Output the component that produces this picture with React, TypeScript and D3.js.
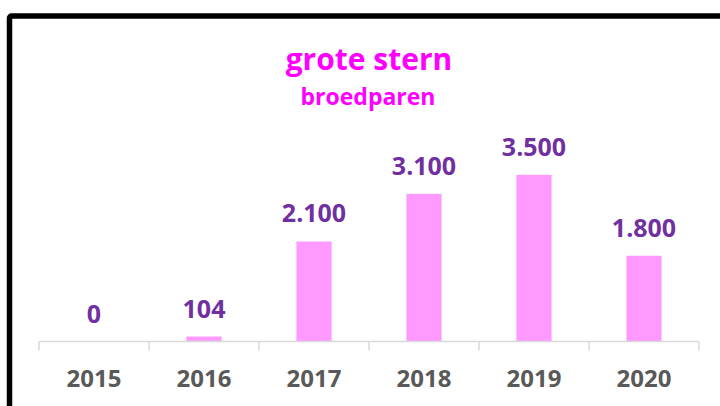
import { useEffect, useRef } from 'react';
import * as d3 from 'd3';

const years = ['2015', '2016', '2017', '2018', '2019', '2020'];
const pairs = [0, 104, 2100, 3100, 3500, 1800];
const title = 'grote stern';
const subtitle = 'broedparen';

export default function App() {
  const svgRef = useRef<SVGSVGElement | null>(null);

  useEffect(() => {
    const width = 720;
    const height = 406;
    const font = '"Open Sans", Calibri, sans-serif';

    const svg = d3.select(svgRef.current)
      .attr('width', width)
      .attr('height', height);
    svg.selectAll('*').remove();

    // kader rond de grafiek (loopt rechts en onder door)
    svg.append('rect')
      .attr('x', 9.5)
      .attr('y', 16)
      .attr('width', 760)
      .attr('height', 440)
      .attr('rx', 2)
      .attr('fill', '#fff')
      .attr('stroke', '#000')
      .attr('stroke-width', 5.5);

    const x = d3.scaleBand<string>()
      .domain(years)
      .range([39, 699])
      .padding(0);

    const y = d3.scaleLinear()
      .domain([0, 4000])
      .range([341.5, 151]);

    const nl = d3.formatLocale({ decimal: ',', thousands: '.', grouping: [3], currency: ['€', ''] });
    const fmt = nl.format(',');

    const barW = x.bandwidth() * 0.32;

    // balken
    svg.append('g')
      .selectAll('rect')
      .data(pairs)
      .join('rect')
      .attr('x', (d, i) => x(years[i])! + x.bandwidth() / 2 - barW / 2)
      .attr('y', d => y(d))
      .attr('width', barW)
      .attr('height', d => y(0) - y(d))
      .attr('fill', '#FF99FF');

    // waardes boven de balken
    svg.append('g')
      .selectAll('text')
      .data(pairs)
      .join('text')
      .attr('x', (d, i) => x(years[i])! + x.bandwidth() / 2)
      .attr('y', d => y(d) - 19)
      .attr('text-anchor', 'middle')
      .attr('font-family', font)
      .attr('font-weight', 700)
      .attr('font-size', 25)
      .attr('fill', '#7030A0')
      .text(d => fmt(d));

    // x-as
    const axis = svg.append('g');
    axis.append('line')
      .attr('x1', x.range()[0])
      .attr('x2', x.range()[1])
      .attr('y1', y(0))
      .attr('y2', y(0))
      .attr('stroke', '#D9D9D9')
      .attr('stroke-width', 1.5);

    const edges = years.map(d => x(d)!).concat([x.range()[1]]);
    axis.selectAll('line.tick')
      .data(edges)
      .join('line')
      .attr('class', 'tick')
      .attr('x1', d => d)
      .attr('x2', d => d)
      .attr('y1', y(0))
      .attr('y2', y(0) + 9)
      .attr('stroke', '#D9D9D9')
      .attr('stroke-width', 1.5);

    axis.selectAll('text')
      .data(years)
      .join('text')
      .attr('x', d => x(d)! + x.bandwidth() / 2)
      .attr('y', 387)
      .attr('text-anchor', 'middle')
      .attr('font-family', font)
      .attr('font-weight', 700)
      .attr('font-size', 24)
      .attr('fill', '#595959')
      .text(d => d);

    // titel
    svg.append('text')
      .attr('x', 369)
      .attr('y', 70)
      .attr('text-anchor', 'middle')
      .attr('font-family', font)
      .attr('font-weight', 700)
      .attr('font-size', 30)
      .attr('fill', '#FF00FF')
      .text(title);

    svg.append('text')
      .attr('x', 368)
      .attr('y', 105)
      .attr('text-anchor', 'middle')
      .attr('font-family', font)
      .attr('font-weight', 700)
      .attr('font-size', 23)
      .attr('fill', '#FF00FF')
      .text(subtitle);
  }, []);

  return (
    <svg ref={svgRef} style={{ position: 'absolute', left: 0, top: 0, display: 'block' }}></svg>
  );
}
